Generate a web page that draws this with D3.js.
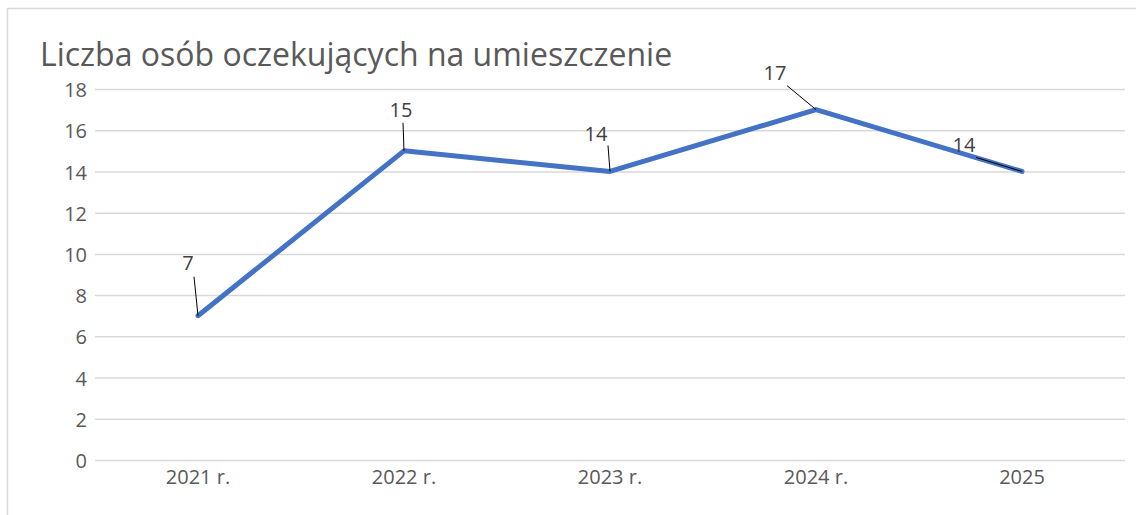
<!DOCTYPE html>
<html><head><meta charset="utf-8">
<script src="https://cdn.jsdelivr.net/npm/d3@7"></script>
<style>
html,body{margin:0;padding:0;background:#fff;}
text{font-family:"Open Sans","Noto Sans",sans-serif;fill:#595959;}
</style></head>
<body>
<svg id="c" width="1136" height="515"></svg>
<script>
const title = "Liczba osób oczekujących na umieszczenie";
const categories = ["2021 r.", "2022 r.", "2023 r.", "2024 r.", "2025"];
const values = [7, 15, 14, 17, 14];
const yTicks = [0, 2, 4, 6, 8, 10, 12, 14, 16, 18];
// label layout (offsets from point): [labelDx, labelDy, leaderDx, leaderDy]
const labelOffsets = [[-10,-46,-4,-39],[-3,-34,-1,-28],[-14,-30,-2,-26],[-41,-30,-29,-24],[-58,-19,-46,-14]];

const svg = d3.select("#c");
svg.append("rect").attr("x",7.5).attr("y",8.5).attr("width",1140).attr("height",520)
  .attr("fill","#fff").attr("stroke","#d9d9d9").attr("stroke-width",1.5);

svg.append("text").attr("x",40).attr("y",66).attr("font-size",32).text(title);

const x = d3.scaleBand().domain(categories).range([95,1125]);
const y = d3.scaleLinear().domain([0,18]).range([460,89]);

const yAxis = svg.append("g").attr("transform","translate(95,0)")
  .call(d3.axisLeft(y).tickValues(yTicks).tickSize(-1030).tickPadding(8));
yAxis.select(".domain").remove();
yAxis.selectAll(".tick line").attr("stroke","#d9d9d9").attr("stroke-width",1.5);
yAxis.selectAll(".tick text").attr("font-size",20).attr("fill","#595959").attr("font-family",null).attr("dy","0.38em");

const xAxis = svg.append("g").attr("transform","translate(0,460)")
  .call(d3.axisBottom(x).tickSize(0).tickPadding(10));
xAxis.select(".domain").remove();
xAxis.selectAll(".tick text").attr("font-size",20).attr("fill","#595959").attr("font-family",null).attr("dy","0.71em");

const cx = (d,i)=>x(categories[i])+x.bandwidth()/2;
const line = d3.line().x((d,i)=>cx(d,i)).y(d=>y(d));
svg.append("path").datum(values).attr("d",line).attr("fill","none")
  .attr("stroke","#4472C4").attr("stroke-width",5).attr("stroke-linejoin","round").attr("stroke-linecap","round");

const g = svg.append("g");
values.forEach((v,i)=>{
  const px = cx(v,i), py = y(v), o = labelOffsets[i];
  g.append("line").attr("x1",px+o[2]).attr("y1",py+o[3]).attr("x2",px).attr("y2",py)
    .attr("stroke","#000").attr("stroke-width",1);
  g.append("text").attr("x",px+o[0]).attr("y",py+o[1]).attr("text-anchor","middle")
    .attr("font-size",20).style("fill","#404040").text(v);
});
</script>
</body></html>
